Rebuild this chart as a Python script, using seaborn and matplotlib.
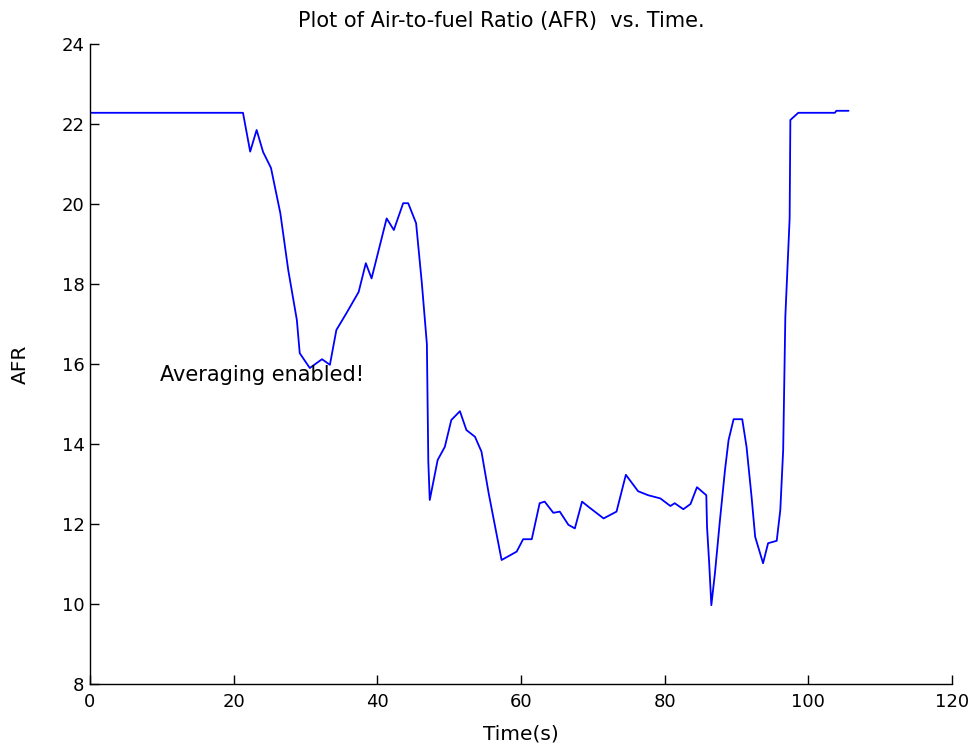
import matplotlib
matplotlib.use("Agg")
import matplotlib.pyplot as plt
import seaborn as sns
import pandas as pd

# Air-to-fuel ratio log
time_s = [0.0, 21.3, 22.3, 23.2, 24.1, 25.2, 26.5, 27.6, 28.8, 29.2, 30.6, 32.3, 33.4,
          34.3, 35.7, 37.4, 38.4, 39.2, 41.3, 42.3, 43.6, 44.3, 45.4, 46.2, 46.9, 47.1,
          47.3, 48.4, 49.4, 50.3, 51.5, 52.4, 53.6, 54.5, 55.5, 57.3, 59.4, 60.3, 61.5,
          62.6, 63.3, 64.5, 65.4, 66.6, 67.5, 68.5, 69.4, 71.5, 73.3, 74.6, 76.3, 77.7,
          79.4, 80.8, 81.4, 82.6, 83.6, 84.5, 85.8, 85.9, 86.2, 86.5, 87.0, 87.7, 88.4,
          88.9, 89.6, 90.8, 91.4, 92.1, 92.6, 93.7, 94.4, 95.6, 96.1, 96.5, 96.8, 97.4,
          97.5, 98.6, 103.7, 103.9, 105.6]
afr = [22.28, 22.28, 21.31, 21.85, 21.3, 20.9, 19.77, 18.35, 17.1, 16.27, 15.9, 16.12, 15.98,
       16.85, 17.27, 17.8, 18.52, 18.14, 19.64, 19.35, 20.02, 20.02, 19.52, 18.02, 16.5, 13.56,
       12.6, 13.6, 13.93, 14.6, 14.82, 14.35, 14.18, 13.81, 12.77, 11.1, 11.31, 11.62, 11.62,
       12.52, 12.56, 12.28, 12.31, 11.98, 11.89, 12.56, 12.43, 12.14, 12.31, 13.23, 12.82, 12.72,
       12.64, 12.45, 12.52, 12.37, 12.5, 12.92, 12.72, 11.93, 11.02, 9.97, 10.77, 12.1, 13.35,
       14.1, 14.62, 14.62, 13.93, 12.68, 11.68, 11.02, 11.52, 11.58, 12.35, 13.85, 17.18, 19.64,
       22.1, 22.28, 22.28, 22.33, 22.33]

x_ticks = [0, 20, 40, 60, 80, 100, 120]
y_ticks = [8, 10, 12, 14, 16, 18, 20, 22, 24]

sns.set_style("white")
plt.rcParams["font.family"] = ["DejaVu Sans"]
plt.rcParams["text.color"] = "black"
plt.rcParams["axes.labelcolor"] = "black"

df = pd.DataFrame({"t": time_s, "afr": afr})

fig = plt.figure(figsize=(9.78, 7.52), dpi=100)
ax = fig.add_axes([0.092, 0.0904, 0.8814, 0.8511])

sns.lineplot(data=df, x="t", y="afr", sort=False, estimator=None,
             color="#0000ff", linewidth=1.3, ax=ax)

ax.set_xlim(0, 120)
ax.set_ylim(8, 24)
ax.set_xticks(x_ticks)
ax.set_yticks(y_ticks)
ax.tick_params(direction="in", length=6.5, width=1, labelsize=13, colors="black",
               bottom=True, left=True)
ax.tick_params(axis="x", pad=6.5)
ax.tick_params(axis="y", pad=4)

for side in ("top", "right"):
    ax.spines[side].set_visible(False)
for side in ("left", "bottom"):
    ax.spines[side].set_color("black")
    ax.spines[side].set_linewidth(1)

ax.set_xlabel("Time(s)", fontsize=14.5)
ax.xaxis.set_label_coords(0.5, -0.064)
ax.set_ylabel("AFR", fontsize=14.5)
ax.yaxis.set_label_coords(-0.07, 0.5)
ax.set_title("Plot of Air-to-fuel Ratio (AFR)  vs. Time.", fontsize=15, x=0.477, pad=12)

ax.text(9.7, 15.72, "Averaging enabled!", fontsize=15, va="center", ha="left")

fig.savefig("out.png", dpi=100)
